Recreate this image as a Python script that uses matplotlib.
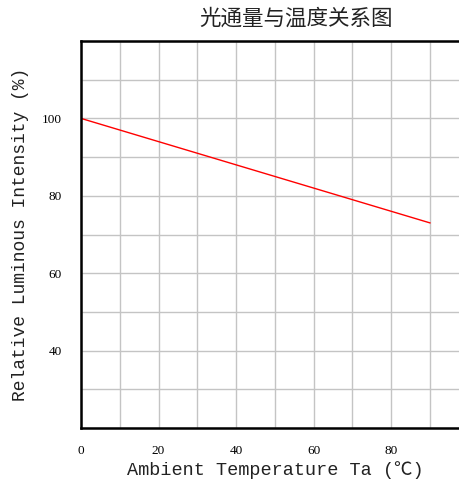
import numpy as np
from matplotlib import pyplot as plt

# Veri
temps = [0, 90]
intensity = [100, 73]

x_ticks = [0, 20, 40, 60, 80, 100]
y_ticks = [40, 60, 80, 100]

fig = plt.figure(figsize=(4.6, 4.84), dpi=100)
ax = fig.add_axes([81 / 460, 56 / 484, 387.7 / 460, 387 / 484])

ax.plot(temps, intensity, color='red', linewidth=1)

ax.set_xlim(0, 100)
ax.set_ylim(20, 120)
ax.set_xticks(np.arange(0, 101, 10), minor=True)
ax.set_yticks(np.arange(20, 121, 10), minor=True)
ax.set_xticks(x_ticks)
ax.set_yticks(y_ticks)
ax.grid(True, which='both', color='#c4c4c4', linewidth=1)
ax.set_axisbelow(True)
ax.tick_params(which='both', length=0)
ax.tick_params(axis='x', pad=12)
ax.tick_params(axis='y', pad=14)
for lbl in ax.get_xticklabels() + ax.get_yticklabels():
    lbl.set_family('Liberation Serif')
    lbl.set_fontsize(9.5)

for side in ['left', 'bottom', 'top']:
    ax.spines[side].set_linewidth(1.8)
    ax.spines[side].set_color('black')
ax.spines['right'].set_visible(False)

ax.set_xlabel('Ambient Temperature Ta (℃)', family=['Liberation Mono', 'Noto Sans CJK SC'],
              fontsize=13.3, labelpad=3, color='#222222')
ax.set_ylabel('Relative Luminous Intensity (%)', family=['Liberation Mono', 'Noto Sans CJK SC'],
              fontsize=13, labelpad=9, color='#222222')

fig.text(296 / 460, 1 - 19 / 484, '光通量与温度关系图', family=['Noto Sans CJK SC'],
         fontsize=15.5, ha='center', va='center', color='#222222')

fig.savefig('out.png', dpi=100)
